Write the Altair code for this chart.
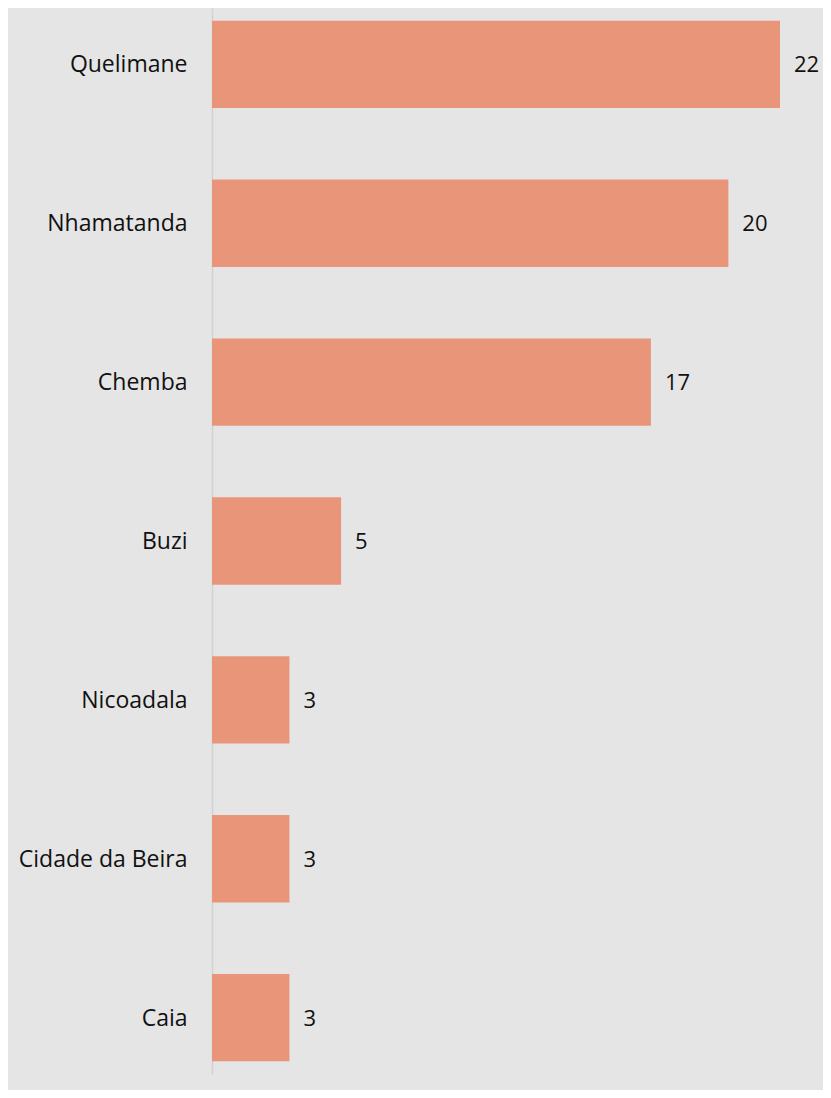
import altair as alt
import pandas as pd

categories = ["Quelimane", "Nhamatanda", "Chemba", "Buzi", "Nicoadala", "Cidade da Beira", "Caia"]
values = [22, 20, 17, 5, 3, 3, 3]

df = pd.DataFrame({"district": categories, "count": values})

FONT = "Open Sans"
FS = 23

y_enc = alt.Y(
    "district:N",
    sort=categories,
    title=None,
    scale=alt.Scale(paddingInner=0.45, paddingOuter=0.08),
    axis=alt.Axis(
        ticks=False,
        labelPadding=25,
        labelFont=FONT,
        labelFontSize=FS,
        labelColor="#111111",
        labelBaseline="alphabetic",
        labelOffset=8,
        domainColor="#d2d2d2",
        domainWidth=1.5,
        labelLimit=300,
    ),
)
x_enc = alt.X("count:Q", title=None, axis=None, scale=alt.Scale(domain=[0, 22], nice=False))

bars = alt.Chart(df).mark_bar(color="#e8957a").encode(x=x_enc, y=y_enc)
text = alt.Chart(df).mark_text(
    align="left", baseline="alphabetic", dx=14, dy=8, font=FONT, fontSize=22, color="#111111"
).encode(x=x_enc, y=y_enc, text="count:Q")

chart = (
    alt.layer(bars, text)
    .properties(
        width=568,
        height=1066,
        autosize=alt.AutoSizeParams(type="none"),
        padding={"left": 204, "top": 0, "right": 43, "bottom": 16},
        background="#e5e5e5",
    )
    .configure_view(stroke=None, fill="#e5e5e5")
)

chart.save("out.html", embed_options={"renderer": "svg", "actions": False})
